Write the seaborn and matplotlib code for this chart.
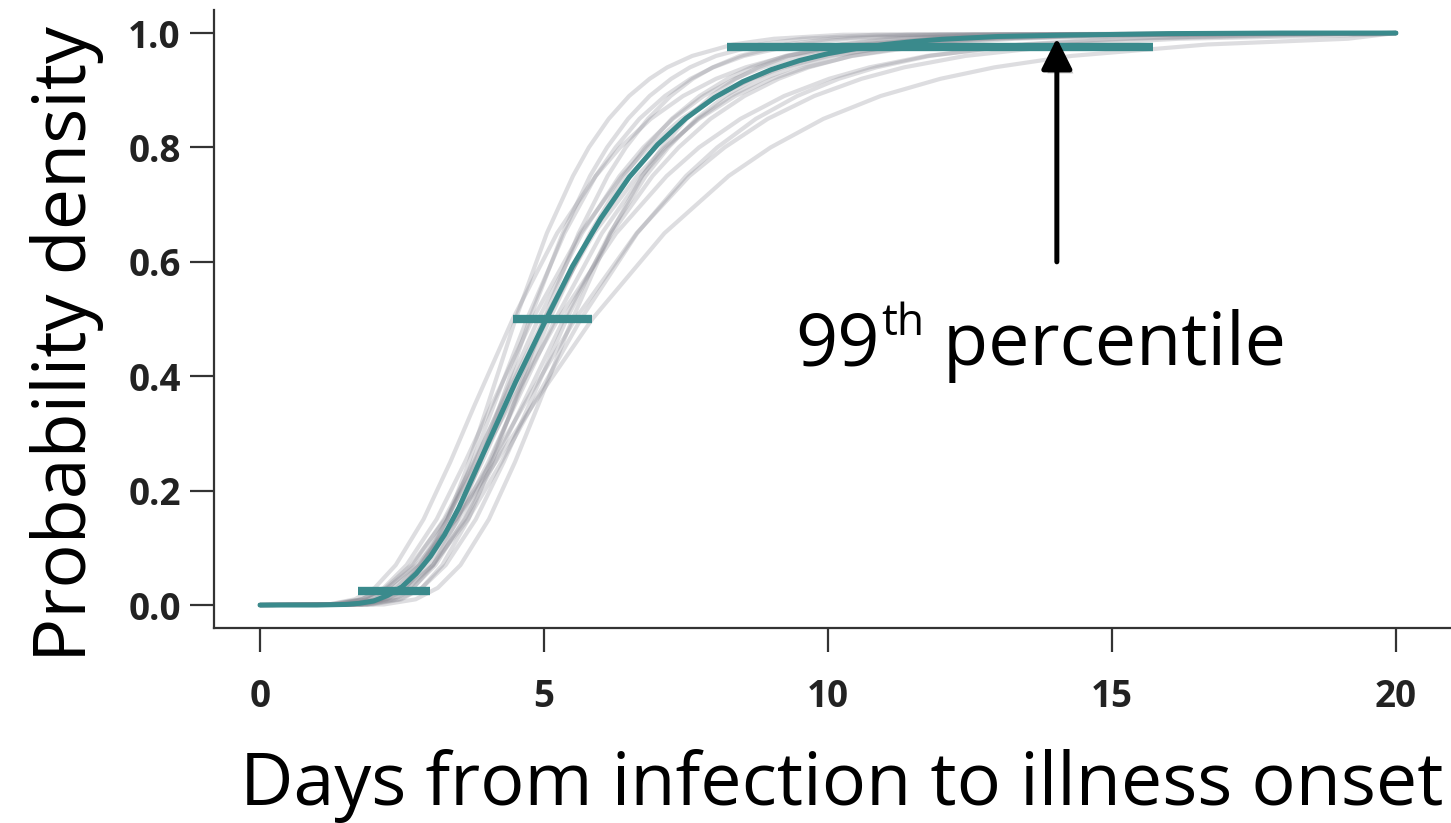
import numpy as np
import pandas as pd
import matplotlib
matplotlib.use("Agg")
import matplotlib.pyplot as plt
import seaborn as sns
from matplotlib import patheffects as pe
from matplotlib.patches import ArrowStyle

# ---------------- data ----------------
teal_days = [0, 1, 1.5, 1.75, 2, 2.25, 2.5, 2.75, 3, 3.25, 3.5, 4, 4.5, 5, 5.5,
             6, 6.5, 7, 7.5, 8, 8.5, 9, 9.5, 10, 10.5, 11, 11.5, 12, 13, 14, 16, 18, 20]
teal_prob = [0, 0.0, 0.001, 0.003, 0.007, 0.017, 0.032, 0.055, 0.085, 0.123, 0.170,
             0.280, 0.390, 0.492, 0.592, 0.676, 0.748, 0.805, 0.851, 0.887, 0.915,
             0.936, 0.952, 0.964, 0.973, 0.980, 0.985, 0.989, 0.994, 0.996, 0.999, 1.0, 1.0]

# gray posterior curves: day reached at each cumulative level
gray_levels = [0, 0.001, 0.01, 0.03, 0.07, 0.15, 0.25, 0.35, 0.5, 0.65, 0.75, 0.80,
               0.85, 0.89, 0.92, 0.94, 0.96, 0.98, 0.99, 0.997, 1.0]
g01 = [0, 1.78, 2.24, 2.56, 2.89, 3.30, 3.68, 4.01, 4.50, 5.05, 5.51, 5.79, 6.14, 6.50, 6.86, 7.17, 7.61, 8.33, 9.05, 10.26, 20]
g02 = [0, 1.65, 2.13, 2.48, 2.84, 3.30, 3.74, 4.12, 4.70, 5.36, 5.91, 6.26, 6.68, 7.13, 7.58, 7.98, 8.52, 9.45, 10.37, 11.96, 20]
g03 = [0, 1.51, 2.02, 2.40, 2.80, 3.30, 3.79, 4.23, 4.90, 5.67, 6.33, 6.75, 7.27, 7.81, 8.36, 8.85, 9.53, 10.70, 11.86, 13.92, 20]
g04 = [0, 1.37, 1.88, 2.27, 2.69, 3.24, 3.77, 4.25, 5.00, 5.88, 6.64, 7.12, 7.73, 8.37, 9.02, 9.61, 10.43, 11.85, 13.28, 15.86, 20]
g05 = [0, 1.79, 2.31, 2.69, 3.09, 3.59, 4.05, 4.47, 5.10, 5.81, 6.41, 6.79, 7.25, 7.74, 8.23, 8.65, 9.25, 10.25, 11.25, 12.98, 20]
g06 = [0, 1.27, 1.80, 2.21, 2.66, 3.26, 3.85, 4.40, 5.25, 6.27, 7.16, 7.73, 8.46, 9.23, 10.02, 10.73, 11.74, 13.51, 15.30, 18.58, 20]
g07 = [0, 1.65, 2.21, 2.62, 3.05, 3.61, 4.14, 4.62, 5.35, 6.19, 6.91, 7.37, 7.93, 8.53, 9.13, 9.66, 10.41, 11.68, 12.95, 15.20, 20]
g08 = [0, 2.18, 2.74, 3.13, 3.53, 4.03, 4.49, 4.90, 5.50, 6.17, 6.73, 7.08, 7.51, 7.95, 8.38, 8.77, 9.30, 10.19, 11.06, 12.54, 20]
g09 = [0, 1.54, 2.12, 2.57, 3.04, 3.66, 4.25, 4.80, 5.65, 6.64, 7.50, 8.05, 8.73, 9.46, 10.19, 10.85, 11.79, 13.39, 15.01, 17.92, 20]
g10 = [0, 1.21, 1.78, 2.24, 2.76, 3.45, 4.15, 4.81, 5.85, 7.12, 8.25, 8.99, 9.92, 10.93, 11.98, 12.93, 14.29, 16.68, 19.15, np.nan, 20]
g11 = [0, 1.21, 1.67, 2.02, 2.39, 2.88, 3.35, 3.78, 4.45, 5.23, 5.91, 6.34, 6.88, 7.45, 8.03, 8.55, 9.28, 10.55, 11.82, 14.11, 20]
g12 = [0, 1.88, 2.37, 2.70, 3.05, 3.48, 3.88, 4.23, 4.75, 5.33, 5.81, 6.11, 6.48, 6.86, 7.24, 7.57, 8.03, 8.80, 9.55, 10.83, 20]
g13 = [0, 1.98, 2.49, 2.85, 3.21, 3.67, 4.09, 4.46, 5.00, 5.61, 6.12, 6.44, 6.83, 7.23, 7.62, 7.97, 8.45, 9.26, 10.05, 11.40, 20]
g14 = [0, 1.61, 2.15, 2.54, 2.97, 3.50, 4.02, 4.49, 5.20, 6.02, 6.72, 7.16, 7.71, 8.29, 8.87, 9.39, 10.11, 11.35, 12.59, 14.77, 20]
g15 = [0, 1.56, 2.09, 2.47, 2.88, 3.40, 3.91, 4.36, 5.05, 5.84, 6.52, 6.95, 7.49, 8.05, 8.62, 9.12, 9.82, 11.02, 12.23, 14.35, 20]
g16 = [0, 1.31, 1.80, 2.18, 2.58, 3.11, 3.61, 4.08, 4.80, 5.64, 6.37, 6.84, 7.42, 8.04, 8.66, 9.22, 10.01, 11.38, 12.75, 15.22, 20]
g17 = [0, 1.89, 2.45, 2.85, 3.27, 3.80, 4.29, 4.74, 5.40, 6.16, 6.79, 7.19, 7.68, 8.19, 8.71, 9.16, 9.79, 10.85, 11.91, 13.74, 20]
g18 = [0, 1.34, 1.90, 2.34, 2.81, 3.45, 4.07, 4.65, 5.55, 6.63, 7.56, 8.18, 8.94, 9.76, 10.59, 11.34, 12.42, 14.28, 16.18, 19.64, 20]
gray_curves = [g01, g02, g03, g04, g05, g06, g07, g08, g09, g10, g11, g12, g13,
               g14, g15, g16, g17, g18]

# percentile bars: level, left day, right day
pct_levels = [0.025, 0.5, 0.975]
pct_lo = [1.73, 4.45, 8.22]
pct_hi = [2.99, 5.85, 15.72]

arrow_x = 14.03
arrow_from = 0.60
arrow_to = 0.991

xticks = [0, 5, 10, 15, 20]
yticks = [0.0, 0.2, 0.4, 0.6, 0.8, 1.0]
ytick_labels = ["0.0", "0.2", "0.4", "0.6", "0.8", "1.0"]

xlabel = "Days from infection to illness onset"
ylabel = "Probability density"
annot_main, annot_sup, annot_rest = "99", "th", " percentile"

TEAL = "#3a8a8c"
GRAY = "#84848e"
AXC = "#333333"

# ---------------- figure ----------------
sns.set_theme(style="ticks")
plt.rcParams["font.family"] = ["Open Sans", "DejaVu Sans"]

fig = plt.figure(figsize=(14.51, 8.23), dpi=100)
ax = fig.add_axes([0.1475, 0.2369, 0.8525, 0.7509])

rows = []
for i, days in enumerate(gray_curves):
    for d, p in zip(days, gray_levels):
        rows.append({"curve": i, "day": d, "prob": p})
gray_df = pd.DataFrame(rows).dropna()

sns.lineplot(data=gray_df, x="day", y="prob", units="curve", estimator=None,
             color=GRAY, alpha=0.27, lw=3.0, sort=False, legend=False, ax=ax)

teal_df = pd.DataFrame({"day": teal_days, "prob": teal_prob})
sns.lineplot(data=teal_df, x="day", y="prob", color=TEAL, lw=3.6, ax=ax,
             sort=False, zorder=5)

ax.hlines(pct_levels, pct_lo, pct_hi, color=TEAL, lw=6, zorder=6)

ax.set_xlim(-0.81, 20.97)
ax.set_ylim(-0.0402, 1.0402)
ax.set_xticks(xticks)
ax.set_xticklabels([str(t) for t in xticks])
ax.set_yticks(yticks)
ax.set_yticklabels(ytick_labels)
ax.set_xlabel("")
ax.set_ylabel("")

for s in ["top", "right"]:
    ax.spines[s].set_visible(False)
for s in ["left", "bottom"]:
    ax.spines[s].set_color(AXC)
    ax.spines[s].set_linewidth(1.6)

ax.tick_params(axis="both", length=17, width=1.6, color=AXC, labelcolor="#222222",
               labelsize=26.5)
ax.tick_params(axis="x", pad=19)
ax.tick_params(axis="y", pad=7)
for lab in ax.get_xticklabels() + ax.get_yticklabels():
    lab.set_fontweight("bold")

fig.text(0.580, 0.022, xlabel, fontsize=53, ha="center", va="baseline", color="black")
fig.text(0.046, 0.582, ylabel, fontsize=53, ha="center", va="center",
         rotation=90, color="black")

# arrow
ann = ax.annotate("", xy=(arrow_x, arrow_to), xytext=(arrow_x, arrow_from),
                  arrowprops=dict(arrowstyle=ArrowStyle("-|>", head_length=0.4, head_width=0.2),
                                  mutation_scale=47, lw=3.6, color="black",
                                  shrinkA=0, shrinkB=0), zorder=7)
ann.arrow_patch.set_path_effects([pe.SimplePatchShadow(offset=(2.5, -2.5), alpha=0.25),
                                  pe.Normal()])

# "99th percentile"
tx, ty = 9.42, 0.419
t1 = ax.text(tx, ty, annot_main, fontsize=53, ha="left", va="baseline", color="black")
fig.canvas.draw()
r = fig.canvas.get_renderer()
anchor_px = ax.transData.transform((tx, ty))
bb1 = t1.get_window_extent(r)
px2pt = 72.0 / fig.dpi
t2 = ax.annotate(annot_sup, xy=(tx, ty), xycoords="data",
                 xytext=((bb1.x1 - anchor_px[0]) * px2pt + 1, 22),
                 textcoords="offset points", fontsize=32, ha="left", va="baseline",
                 color="black")
fig.canvas.draw()
bb2 = t2.get_window_extent(r)
ax.annotate(annot_rest, xy=(tx, ty), xycoords="data",
            xytext=((bb2.x1 - anchor_px[0]) * px2pt, 0),
            textcoords="offset points", fontsize=53, ha="left", va="baseline",
            color="black")

fig.savefig("out.png", dpi=100)
